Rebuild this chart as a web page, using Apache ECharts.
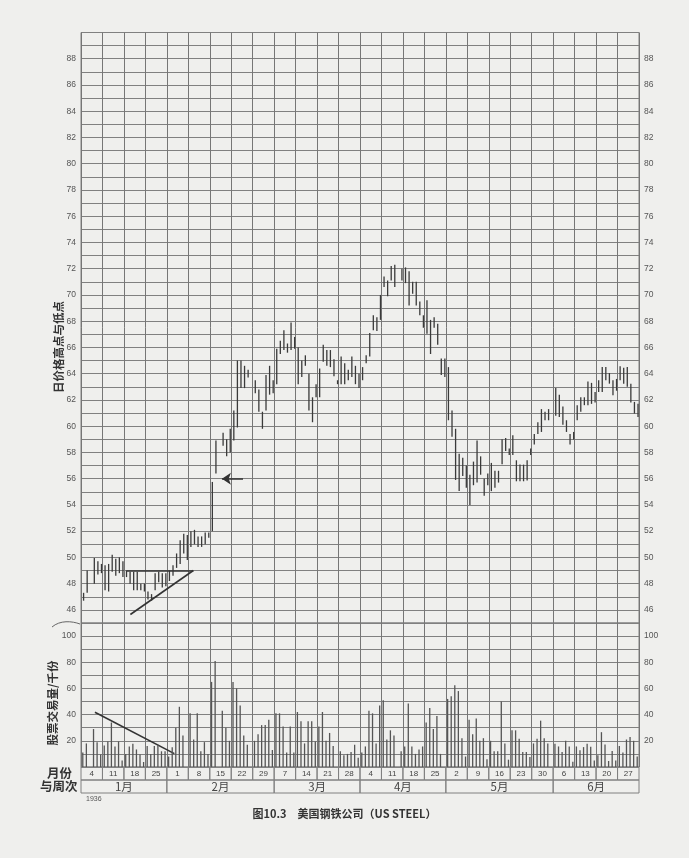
<!DOCTYPE html>
<html><head><meta charset="utf-8">
<script src="https://cdn.jsdelivr.net/npm/echarts@6/dist/echarts.min.js"></script>
<style>html,body{margin:0;padding:0;background:#efefed}#c{width:689px;height:858px}</style>
</head><body><div id="c"></div><script>
// ---- data ----
const weekLabels = ['4','11','18','25','1','8','15','22','29','7','14','21','28','4','11','18','25','2','9','16','23','30','6','13','20','27'];
const monthNames = ['1月','2月','3月','4月','5月','6月'];
const monthWeeks = [4,5,4,4,5,4];
const dayNames = ['一','二','三','四','五','六'];
// daily low / high (Mon..Sat of each week), null = market closed
const priceLow = [
 46.7,47.3,null,48.0,48.7,48.8,
 47.5,47.4,48.9,48.6,48.8,48.5,
 48.5,48.0,47.5,47.5,47.5,47.4,
 46.8,46.7,47.5,48.1,47.7,47.8,
 48.2,48.6,49.2,49.5,50.3,49.8,
 50.8,51.0,50.8,50.8,51.0,51.5,
 52.0,56.4,null,58.5,57.7,58.0,
 58.9,59.9,62.9,62.9,63.7,null,
 62.5,61.1,59.8,61.2,62.4,62.5,
 63.2,65.5,65.8,65.6,65.8,65.9,
 63.2,63.75,64.6,61.2,60.3,62.2,
 62.2,64.9,64.6,64.5,63.8,63.2,
 63.2,63.2,63.5,63.75,63.2,62.9,
 63.5,64.8,65.3,67.3,67.25,68.1,
 70.6,69.9,71.1,70.6,null,71.1,
 70.9,69.2,70.1,69.2,68.45,67.5,
 67.05,65.5,67.5,66.2,63.9,63.75,
 60.45,59.2,55.9,55.05,56.2,55.3,
 54.0,55.5,55.7,56.3,54.7,55.5,
 55.05,55.3,55.7,57.1,58.1,57.8,
 57.8,55.8,55.8,55.8,55.85,57.8,
 58.6,59.4,59.56,60.45,60.45,null,
 60.8,60.7,60.1,59.56,58.6,58.98,
 60.45,61.1,61.6,61.6,61.7,61.8,
 62.6,62.6,63.5,63.24,62.35,62.7,
 63.5,63.24,63.0,61.8,60.96,60.7
];
const priceHigh = [
 47.3,49.0,null,49.95,49.7,49.5,
 49.4,49.5,50.2,49.9,50.0,49.7,
 49.0,48.9,48.9,48.9,48.0,48.0,
 47.4,47.2,48.8,48.9,48.8,48.8,
 49.0,49.4,50.3,51.3,51.8,51.7,
 52.0,52.1,51.6,51.6,51.9,51.9,
 55.75,58.9,null,59.5,59.0,59.8,
 61.2,65.0,65.0,64.6,64.3,null,
 63.5,62.8,61.1,63.9,64.6,63.5,
 65.9,66.5,67.3,66.3,67.9,66.8,
 66.0,65.0,65.4,64.0,62.2,63.2,
 64.4,66.2,65.8,65.8,65.1,63.5,
 65.3,64.8,64.3,65.3,64.6,64.0,
 64.5,65.4,67.1,68.45,68.3,70.0,
 71.4,71.1,72.2,72.3,null,72.0,
 72.1,71.8,71.0,71.0,69.5,68.45,
 69.6,68.1,68.3,67.8,65.15,65.15,
 64.5,61.2,59.8,57.9,57.6,57.0,
 56.3,57.3,58.9,57.7,56.0,56.4,
 57.2,56.6,56.6,59.0,59.1,58.3,
 59.3,57.4,57.07,57.07,57.4,58.3,
 59.4,60.3,61.3,61.1,61.3,null,
 62.9,62.4,61.5,60.45,59.4,59.56,
 61.6,62.2,62.2,63.4,63.3,62.6,
 63.5,64.5,64.5,64.05,63.5,63.6,
 64.56,64.46,64.5,63.24,61.85,61.7
];
// daily volume, thousands of shares
const volume = [
 11,18,null,29,19,9.5,
 16.5,19.5,34,15.7,19.5,5,
 10,15.7,17.7,13.4,9.6,3.8,
 16,10,16,17,12,12,
 8,15,30,46,24,null,
 41,21,41,12,19,10,
 65,81,null,43,30,20,
 65,60,47,24,17,null,
 20,25,32,32,36,13,
 41,41,31,11,31,11,
 42,35,18,35,35,19.5,
 31,42,20,26,16,null,
 12,9,10,11.4,17,7,
 11,15.7,43,41,18,47,
 51,21,28,24,null,12,
 15.7,48.6,15.7,10,13.4,15.7,
 34,45,29,39,10,null,
 52,54,62.5,58,22,8,
 36,25,37,20,22,6,
 20,12,12,50,18,5.6,
 28,28,21.5,11.4,11.4,7.6,
 18,21.5,35.4,22,18,null,
 17.7,15.7,11.4,20,15.7,4,
 15.7,12.7,15.2,17.7,15.5,5,
 9,26.6,17.2,4.6,12.2,5,
 16,11,21,23,20,8
];
// hand-drawn annotations, in (day slot, value) units
const flatTop = [[12.7,49],[31.4,49]];
const risingLow = [[13.8,45.65],[31.4,49]];
const gapArrow = [[45.3,56],[39.4,56]];
const volumeTrend = [[3.9,41.8],[26.1,10.2]];
const cornerMark = [[146.3,88.3]];

// ---- chart ----
const days = [];
weekLabels.forEach((w,wi)=>dayNames.forEach(d=>days.push(wi+'-'+d)));
const priceData = [];
priceLow.forEach((l,i)=>{ if(l!=null) priceData.push([i,l,priceHigh[i]]); });
const cells = [];
weekLabels.forEach((w,i)=>cells.push({x0:i,x1:i+1,y0:1,y1:2,t:w,fs:8}));
let acc=0;
monthNames.forEach((m,i)=>{cells.push({x0:acc,x1:acc+monthWeeks[i],y0:0,y1:1,t:m,fs:11.5}); acc+=monthWeeks[i];});

const L=81, W=558;
const font='Liberation Sans';
const cjk='Noto Sans CJK SC';
const gridCol='#808080';
const lab={color:'#555',fontSize:8.5,fontFamily:font};
const chart=echarts.init(document.getElementById('c'),null,{renderer:'canvas'});
chart.setOption({
  backgroundColor:'#efefed',
  animation:false,
  title:{text:'图10.3　美国钢铁公司（US STEEL）',left:'center',top:803,
    textStyle:{fontSize:11,fontWeight:'bold',color:'#333',fontFamily:cjk}},
  graphic:[
    {type:'text',left:47,top:767,style:{text:'月份',fontSize:12.5,fontWeight:'bold',fill:'#333',fontFamily:cjk}},
    {type:'text',left:40,top:780,style:{text:'与周次',fontSize:12.5,fontWeight:'bold',fill:'#333',fontFamily:cjk}},
    {type:'text',left:86,top:796,style:{text:'1936',fontSize:7,fill:'#555',fontFamily:font}},
    {type:'text',x:59,y:347,rotation:Math.PI/2,style:{text:'日价格高点与低点',align:'center',verticalAlign:'middle',textAlign:'center',textVerticalAlign:'middle',
      fontSize:11.5,fontWeight:'bold',fill:'#333',fontFamily:cjk}},
    {type:'text',x:53,y:703,rotation:Math.PI/2,style:{text:'股票交易量/千份',align:'center',verticalAlign:'middle',textAlign:'center',textVerticalAlign:'middle',
      fontSize:11.5,fontWeight:'bold',fill:'#333',fontFamily:cjk}},
    {type:'bezierCurve',shape:{x1:52,y1:627,x2:80,y2:624,cpx1:60,cpy1:620,cpx2:72,cpy2:621},style:{stroke:'#666',lineWidth:1,fill:'none'}}
  ],
  grid:[
    {left:L,width:W,top:32.5,height:590.5,show:true,borderColor:gridCol,borderWidth:1},
    {left:L,width:W,top:623,height:144,show:true,borderColor:gridCol,borderWidth:1},
    {left:L,width:W,top:767,height:26,show:false}
  ],
  xAxis:[
    {gridIndex:0,type:'category',data:days,boundaryGap:true,axisLine:{show:false},axisTick:{show:false},axisLabel:{show:false},
      splitLine:{show:true,interval:5,lineStyle:{color:'#767676',width:1}}},
    {gridIndex:1,type:'category',data:days,boundaryGap:true,axisLine:{show:false},axisTick:{show:false},axisLabel:{show:false},
      splitLine:{show:true,interval:5,lineStyle:{color:'#767676',width:1}}},
    {gridIndex:2,type:'value',min:0,max:26,show:false},
    {gridIndex:0,type:'value',min:0,max:156,show:false},
    {gridIndex:1,type:'value',min:0,max:156,show:false}
  ],
  yAxis:[
    {gridIndex:0,type:'value',min:45,max:90,interval:1,position:'left',
      axisLine:{show:false},axisTick:{show:false},
      axisLabel:Object.assign({margin:5,formatter:v=>(v%2===0&&v>=46&&v<=88)?String(v):''},lab),
      splitLine:{show:true,lineStyle:{color:gridCol,width:1}}},
    {gridIndex:0,type:'value',min:45,max:90,interval:1,position:'right',
      axisLine:{show:false},axisTick:{show:false},
      axisLabel:Object.assign({margin:5,formatter:v=>(v%2===0&&v>=46&&v<=88)?String(v):''},lab),
      splitLine:{show:false}},
    {gridIndex:1,type:'value',min:0,max:110,interval:10,position:'left',
      axisLine:{show:false},axisTick:{show:false},
      axisLabel:Object.assign({margin:5,formatter:v=>(v%20===0&&v>=20&&v<=100)?String(v):''},lab),
      splitLine:{show:true,lineStyle:{color:gridCol,width:1}}},
    {gridIndex:1,type:'value',min:0,max:110,interval:10,position:'right',
      axisLine:{show:false},axisTick:{show:false},
      axisLabel:Object.assign({margin:5,formatter:v=>(v%20===0&&v>=20&&v<=100)?String(v):''},lab),
      splitLine:{show:false}},
    {gridIndex:2,type:'value',min:0,max:2,show:false}
  ],
  series:[
    {type:'custom',xAxisIndex:0,yAxisIndex:0,data:priceData,encode:{x:0,y:[1,2]},
      renderItem:(p,api)=>{const a=api.coord([api.value(0),api.value(1)]),b=api.coord([api.value(0),api.value(2)]);
        return {type:'line',shape:{x1:a[0]+0.8,y1:a[1],x2:a[0]+0.8,y2:b[1]},style:{stroke:'#3a3a3a',lineWidth:1.3}};}},
    {type:'bar',xAxisIndex:1,yAxisIndex:2,data:volume,barWidth:1.3,itemStyle:{color:'#555'}},
    {type:'lines',coordinateSystem:'cartesian2d',xAxisIndex:3,yAxisIndex:0,
      data:[{coords:flatTop},{coords:risingLow}],lineStyle:{color:'#333',width:1.6,opacity:1},symbol:['none','none']},
    {type:'lines',coordinateSystem:'cartesian2d',xAxisIndex:3,yAxisIndex:0,
      data:[{coords:gapArrow}],lineStyle:{color:'#333',width:1.6,opacity:1},symbol:['none','arrow'],symbolSize:[6,9]},
    {type:'lines',coordinateSystem:'cartesian2d',xAxisIndex:4,yAxisIndex:2,
      data:[{coords:volumeTrend}],lineStyle:{color:'#333',width:1.6,opacity:1},symbol:['none','none']},
    {type:'scatter',xAxisIndex:3,yAxisIndex:0,data:cornerMark,symbolSize:1,itemStyle:{opacity:0},
      label:{show:true,position:'inside',formatter:'X',fontSize:13,color:'#333',fontFamily:font}},
    {type:'custom',xAxisIndex:2,yAxisIndex:4,data:cells.map(c=>[c.x0,c.x1,c.y0,c.y1]),
      renderItem:(p,api)=>{const c=cells[p.dataIndex];const a=api.coord([c.x0,c.y1]),b=api.coord([c.x1,c.y0]);
        return {type:'group',children:[
          {type:'rect',shape:{x:a[0],y:a[1],width:b[0]-a[0],height:b[1]-a[1]},style:{fill:'none',stroke:gridCol,lineWidth:1}},
          {type:'text',style:{text:c.t,x:(a[0]+b[0])/2,y:(a[1]+b[1])/2+0.5,align:'center',verticalAlign:'middle',textAlign:'center',textVerticalAlign:'middle',
            fontSize:c.fs,fill:'#444',fontFamily:c.fs>10?cjk:font}}]};}}
  ]
});
</script></body></html>
